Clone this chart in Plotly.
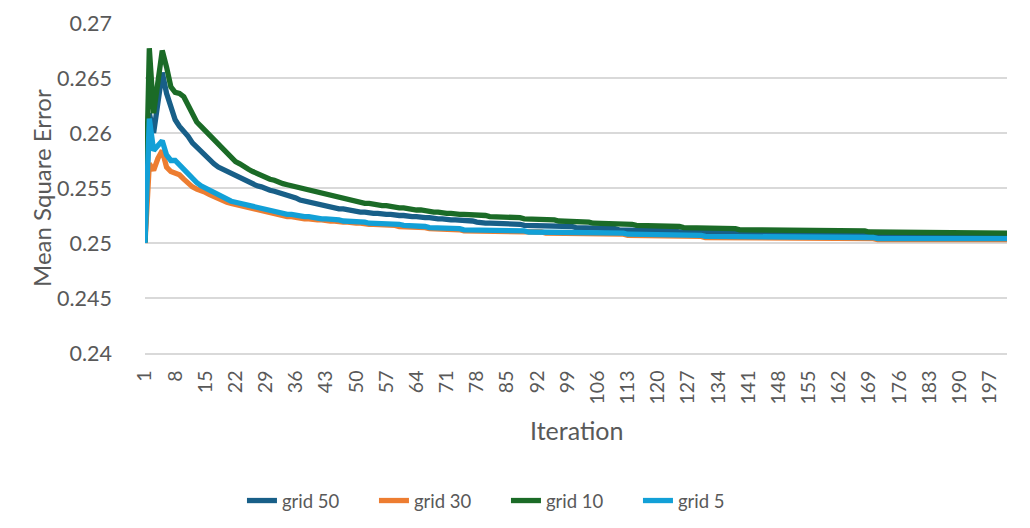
import plotly.graph_objects as go

iterations = list(range(1, 202))

grid_50 = [
    0.2500, 0.2618, 0.2600, 0.2627, 0.2655, 0.2636, 0.2624, 0.2612, 0.2606, 0.2602,
    0.2597, 0.2591, 0.2587, 0.2584, 0.2579, 0.2575, 0.2572, 0.2569, 0.2567, 0.2565,
    0.2563, 0.2561, 0.2559, 0.2557, 0.2555, 0.2554, 0.2552, 0.2551, 0.2549, 0.2548,
    0.2547, 0.2546, 0.2545, 0.2543, 0.2542, 0.2541, 0.2539, 0.2538, 0.2537, 0.2536,
    0.2535, 0.2534, 0.2534, 0.2533, 0.2532, 0.2531, 0.2531, 0.2530, 0.2529, 0.2529,
    0.2528, 0.2528, 0.2527, 0.2527, 0.2527, 0.2526, 0.2526, 0.2526, 0.2525, 0.2525,
    0.2525, 0.2524, 0.2524, 0.2524, 0.2523, 0.2523, 0.2523, 0.2522, 0.2522, 0.2522,
    0.2521, 0.2521, 0.2521, 0.2521, 0.2520, 0.2520, 0.2520, 0.2519, 0.2518, 0.2518,
    0.2518, 0.2518, 0.2518, 0.2517, 0.2517, 0.2517, 0.2517, 0.2517, 0.2516, 0.2516,
    0.2516, 0.2516, 0.2516, 0.2516, 0.2515, 0.2515, 0.2515, 0.2515, 0.2515, 0.2515,
    0.2514, 0.2514, 0.2514, 0.2514, 0.2514, 0.2514, 0.2513, 0.2513, 0.2513, 0.2513,
    0.2512, 0.2512, 0.2512, 0.2512, 0.2512, 0.2512, 0.2512, 0.2511, 0.2511, 0.2511,
    0.2511, 0.2511, 0.2511, 0.2511, 0.2510, 0.2510, 0.2510, 0.2510, 0.2510, 0.2510,
    0.2510, 0.2510, 0.2510, 0.2510, 0.2510, 0.2509, 0.2509, 0.2509, 0.2509, 0.2509,
    0.2509, 0.2509, 0.2509, 0.2509, 0.2509, 0.2509, 0.2509, 0.2509, 0.2509, 0.2509,
    0.2509, 0.2509, 0.2509, 0.2509, 0.2509, 0.2509, 0.2509, 0.2509, 0.2509, 0.2509,
    0.2509, 0.2509, 0.2509, 0.2509, 0.2509, 0.2509, 0.2509, 0.2509, 0.2509, 0.2509,
    0.2508, 0.2508, 0.2508, 0.2508, 0.2508, 0.2508, 0.2508, 0.2508, 0.2508, 0.2508,
    0.2508, 0.2508, 0.2508, 0.2508, 0.2508, 0.2508, 0.2508, 0.2508, 0.2508, 0.2508,
    0.2508, 0.2508, 0.2508, 0.2508, 0.2508, 0.2508, 0.2508, 0.2508, 0.2508, 0.2508,
    0.2508,
]

grid_30 = [
    0.2500, 0.2572, 0.2566, 0.2577, 0.2584, 0.2569, 0.2565, 0.2563, 0.2562, 0.2558,
    0.2554, 0.2551, 0.2549, 0.2548, 0.2546, 0.2544, 0.2542, 0.2541, 0.2539, 0.2537,
    0.2536, 0.2535, 0.2534, 0.2533, 0.2532, 0.2531, 0.2530, 0.2529, 0.2528, 0.2527,
    0.2526, 0.2525, 0.2525, 0.2524, 0.2524, 0.2523, 0.2523, 0.2522, 0.2522, 0.2521,
    0.2521, 0.2521, 0.2520, 0.2520, 0.2520, 0.2519, 0.2519, 0.2519, 0.2518, 0.2518,
    0.2518, 0.2517, 0.2517, 0.2517, 0.2517, 0.2516, 0.2516, 0.2516, 0.2516, 0.2515,
    0.2515, 0.2515, 0.2515, 0.2514, 0.2514, 0.2514, 0.2513, 0.2513, 0.2513, 0.2513,
    0.2512, 0.2512, 0.2512, 0.2512, 0.2511, 0.2511, 0.2511, 0.2511, 0.2511, 0.2511,
    0.2510, 0.2510, 0.2510, 0.2510, 0.2510, 0.2510, 0.2510, 0.2510, 0.2510, 0.2510,
    0.2510, 0.2510, 0.2510, 0.2509, 0.2509, 0.2509, 0.2509, 0.2509, 0.2509, 0.2509,
    0.2509, 0.2509, 0.2509, 0.2508, 0.2508, 0.2508, 0.2508, 0.2508, 0.2508, 0.2508,
    0.2508, 0.2508, 0.2507, 0.2507, 0.2507, 0.2507, 0.2507, 0.2507, 0.2507, 0.2507,
    0.2506, 0.2506, 0.2506, 0.2506, 0.2506, 0.2506, 0.2506, 0.2506, 0.2506, 0.2506,
    0.2505, 0.2505, 0.2505, 0.2505, 0.2505, 0.2505, 0.2505, 0.2505, 0.2505, 0.2505,
    0.2505, 0.2505, 0.2505, 0.2505, 0.2505, 0.2504, 0.2504, 0.2504, 0.2504, 0.2504,
    0.2504, 0.2504, 0.2504, 0.2504, 0.2504, 0.2504, 0.2504, 0.2504, 0.2504, 0.2504,
    0.2504, 0.2504, 0.2504, 0.2504, 0.2504, 0.2504, 0.2504, 0.2504, 0.2504, 0.2504,
    0.2503, 0.2503, 0.2503, 0.2503, 0.2503, 0.2503, 0.2503, 0.2503, 0.2503, 0.2503,
    0.2503, 0.2503, 0.2503, 0.2503, 0.2503, 0.2503, 0.2503, 0.2503, 0.2503, 0.2503,
    0.2503, 0.2503, 0.2503, 0.2503, 0.2503, 0.2503, 0.2503, 0.2503, 0.2503, 0.2503,
    0.2503,
]

grid_10 = [
    0.2501, 0.2677, 0.2618, 0.2650, 0.2675, 0.2660, 0.2642, 0.2637, 0.2636, 0.2633,
    0.2626, 0.2617, 0.2610, 0.2606, 0.2602, 0.2597, 0.2593, 0.2589, 0.2585, 0.2581,
    0.2577, 0.2574, 0.2572, 0.2569, 0.2567, 0.2565, 0.2563, 0.2561, 0.2559, 0.2558,
    0.2557, 0.2555, 0.2554, 0.2553, 0.2552, 0.2551, 0.2551, 0.2550, 0.2548, 0.2547,
    0.2546, 0.2545, 0.2544, 0.2543, 0.2542, 0.2541, 0.2540, 0.2539, 0.2538, 0.2538,
    0.2537, 0.2536, 0.2536, 0.2535, 0.2535, 0.2534, 0.2534, 0.2533, 0.2533, 0.2532,
    0.2532, 0.2531, 0.2531, 0.2530, 0.2530, 0.2529, 0.2529, 0.2528, 0.2528, 0.2527,
    0.2527, 0.2527, 0.2526, 0.2526, 0.2526, 0.2526, 0.2525, 0.2525, 0.2525, 0.2525,
    0.2524, 0.2524, 0.2524, 0.2524, 0.2523, 0.2523, 0.2523, 0.2523, 0.2522, 0.2522,
    0.2522, 0.2522, 0.2521, 0.2521, 0.2521, 0.2521, 0.2520, 0.2520, 0.2520, 0.2520,
    0.2519, 0.2519, 0.2519, 0.2519, 0.2518, 0.2518, 0.2518, 0.2518, 0.2517, 0.2517,
    0.2517, 0.2517, 0.2517, 0.2517, 0.2516, 0.2516, 0.2516, 0.2516, 0.2516, 0.2516,
    0.2515, 0.2515, 0.2515, 0.2515, 0.2515, 0.2514, 0.2514, 0.2514, 0.2514, 0.2514,
    0.2514, 0.2513, 0.2513, 0.2513, 0.2513, 0.2513, 0.2513, 0.2513, 0.2512, 0.2512,
    0.2512, 0.2512, 0.2512, 0.2512, 0.2512, 0.2512, 0.2512, 0.2512, 0.2511, 0.2511,
    0.2511, 0.2511, 0.2511, 0.2511, 0.2511, 0.2511, 0.2511, 0.2511, 0.2511, 0.2511,
    0.2511, 0.2511, 0.2511, 0.2511, 0.2511, 0.2511, 0.2511, 0.2511, 0.2510, 0.2510,
    0.2510, 0.2510, 0.2510, 0.2510, 0.2510, 0.2510, 0.2510, 0.2510, 0.2510, 0.2510,
    0.2510, 0.2510, 0.2510, 0.2510, 0.2510, 0.2509, 0.2509, 0.2509, 0.2509, 0.2509,
    0.2509, 0.2509, 0.2509, 0.2509, 0.2509, 0.2509, 0.2509, 0.2509, 0.2509, 0.2509,
    0.2509,
]

grid_5 = [
    0.2500, 0.2613, 0.2584, 0.2589, 0.2593, 0.2580, 0.2575, 0.2575, 0.2571, 0.2567,
    0.2562, 0.2558, 0.2555, 0.2552, 0.2550, 0.2547, 0.2545, 0.2543, 0.2541, 0.2540,
    0.2538, 0.2537, 0.2536, 0.2535, 0.2534, 0.2533, 0.2532, 0.2531, 0.2530, 0.2529,
    0.2528, 0.2527, 0.2527, 0.2526, 0.2526, 0.2525, 0.2525, 0.2524, 0.2524, 0.2523,
    0.2523, 0.2522, 0.2522, 0.2522, 0.2521, 0.2521, 0.2520, 0.2520, 0.2520, 0.2519,
    0.2519, 0.2519, 0.2518, 0.2518, 0.2518, 0.2518, 0.2517, 0.2517, 0.2517, 0.2517,
    0.2516, 0.2516, 0.2516, 0.2515, 0.2515, 0.2515, 0.2514, 0.2514, 0.2514, 0.2514,
    0.2513, 0.2513, 0.2513, 0.2513, 0.2512, 0.2512, 0.2512, 0.2512, 0.2512, 0.2512,
    0.2512, 0.2511, 0.2511, 0.2511, 0.2511, 0.2511, 0.2511, 0.2511, 0.2511, 0.2510,
    0.2510, 0.2510, 0.2510, 0.2510, 0.2510, 0.2510, 0.2510, 0.2510, 0.2510, 0.2510,
    0.2510, 0.2510, 0.2509, 0.2509, 0.2509, 0.2509, 0.2509, 0.2509, 0.2509, 0.2509,
    0.2509, 0.2509, 0.2508, 0.2508, 0.2508, 0.2508, 0.2508, 0.2508, 0.2508, 0.2508,
    0.2507, 0.2507, 0.2507, 0.2507, 0.2507, 0.2507, 0.2507, 0.2507, 0.2507, 0.2507,
    0.2506, 0.2506, 0.2506, 0.2506, 0.2506, 0.2506, 0.2506, 0.2506, 0.2506, 0.2506,
    0.2505, 0.2505, 0.2505, 0.2505, 0.2505, 0.2505, 0.2505, 0.2505, 0.2505, 0.2505,
    0.2505, 0.2505, 0.2505, 0.2505, 0.2505, 0.2505, 0.2505, 0.2505, 0.2505, 0.2505,
    0.2505, 0.2505, 0.2505, 0.2505, 0.2505, 0.2505, 0.2505, 0.2505, 0.2505, 0.2505,
    0.2504, 0.2504, 0.2504, 0.2504, 0.2504, 0.2504, 0.2504, 0.2504, 0.2504, 0.2504,
    0.2504, 0.2504, 0.2504, 0.2504, 0.2504, 0.2504, 0.2504, 0.2504, 0.2504, 0.2504,
    0.2504, 0.2504, 0.2504, 0.2504, 0.2504, 0.2504, 0.2504, 0.2504, 0.2504, 0.2504,
    0.2504,
]

series_names = ["grid 50", "grid 30", "grid 10", "grid 5"]
series_colors = ["#185F88", "#ED7D31", "#1B6B27", "#12A0D7"]

x_tick_values = list(range(1, 202, 7))
y_tick_values = [0.24, 0.245, 0.25, 0.255, 0.26, 0.265, 0.27]
y_tick_labels = ["0.24", "0.245", "0.25", "0.255", "0.26", "0.265", "0.27"]

FONT = "Lato, Calibri, Carlito, sans-serif"
TEXT = "#595959"

fig = go.Figure()
for name, values, color in zip(series_names, [grid_50, grid_30, grid_10, grid_5], series_colors):
    fig.add_trace(go.Scatter(
        x=iterations, y=values, name=name, mode="lines",
        line=dict(color=color, width=5.3),
    ))

fig.update_layout(
    width=1030, height=528,
    paper_bgcolor="white", plot_bgcolor="white",
    margin=dict(l=145, r=23, t=23, b=175),
    font=dict(family=FONT, color=TEXT, size=18),
    showlegend=True,
    legend=dict(
        orientation="h", x=(248 - 145) / 862 - 0.007, xanchor="left",
        yref="container", y=1 - 501 / 528, yanchor="middle",
        font=dict(size=18.5, color=TEXT), entrywidth=87, entrywidthmode="pixels",
        traceorder="normal",
    ),
    xaxis=dict(
        range=[1, 201], tickmode="array", tickvals=x_tick_values,
        tickangle=-90, showgrid=False, zeroline=False, automargin=False,
        showline=True, linecolor="#D9D9D9", linewidth=1.5,
        ticks="", ticklabelstandoff=8,
        tickfont=dict(size=19.5, color=TEXT, family=FONT),
    ),
    yaxis=dict(
        range=[0.24, 0.27], tickmode="array", tickvals=y_tick_values,
        ticktext=y_tick_labels, showgrid=True, gridcolor="#D9D9D9", gridwidth=1.5,
        zeroline=False, showline=False, ticks="", ticklabelstandoff=32, automargin=False,
        tickfont=dict(size=21.5, color=TEXT, family=FONT),
    ),
    annotations=[
        dict(text="Mean Square Error", xref="paper", yref="paper",
             x=(41 - 145) / 862, y=0.5, xanchor="center", yanchor="middle",
             textangle=-90, showarrow=False, font=dict(size=24, color=TEXT, family=FONT)),
        dict(text="Iteration", xref="paper", yref="paper",
             x=0.5, y=(352.7 - 430) / 330, xanchor="center", yanchor="middle",
             showarrow=False, font=dict(size=25, color=TEXT, family=FONT)),
    ],
)

fig.write_html(
    "out.html",
    config={"displayModeBar": False},
    post_script="document.body.style.margin='0';document.body.style.overflow='hidden';",
)
